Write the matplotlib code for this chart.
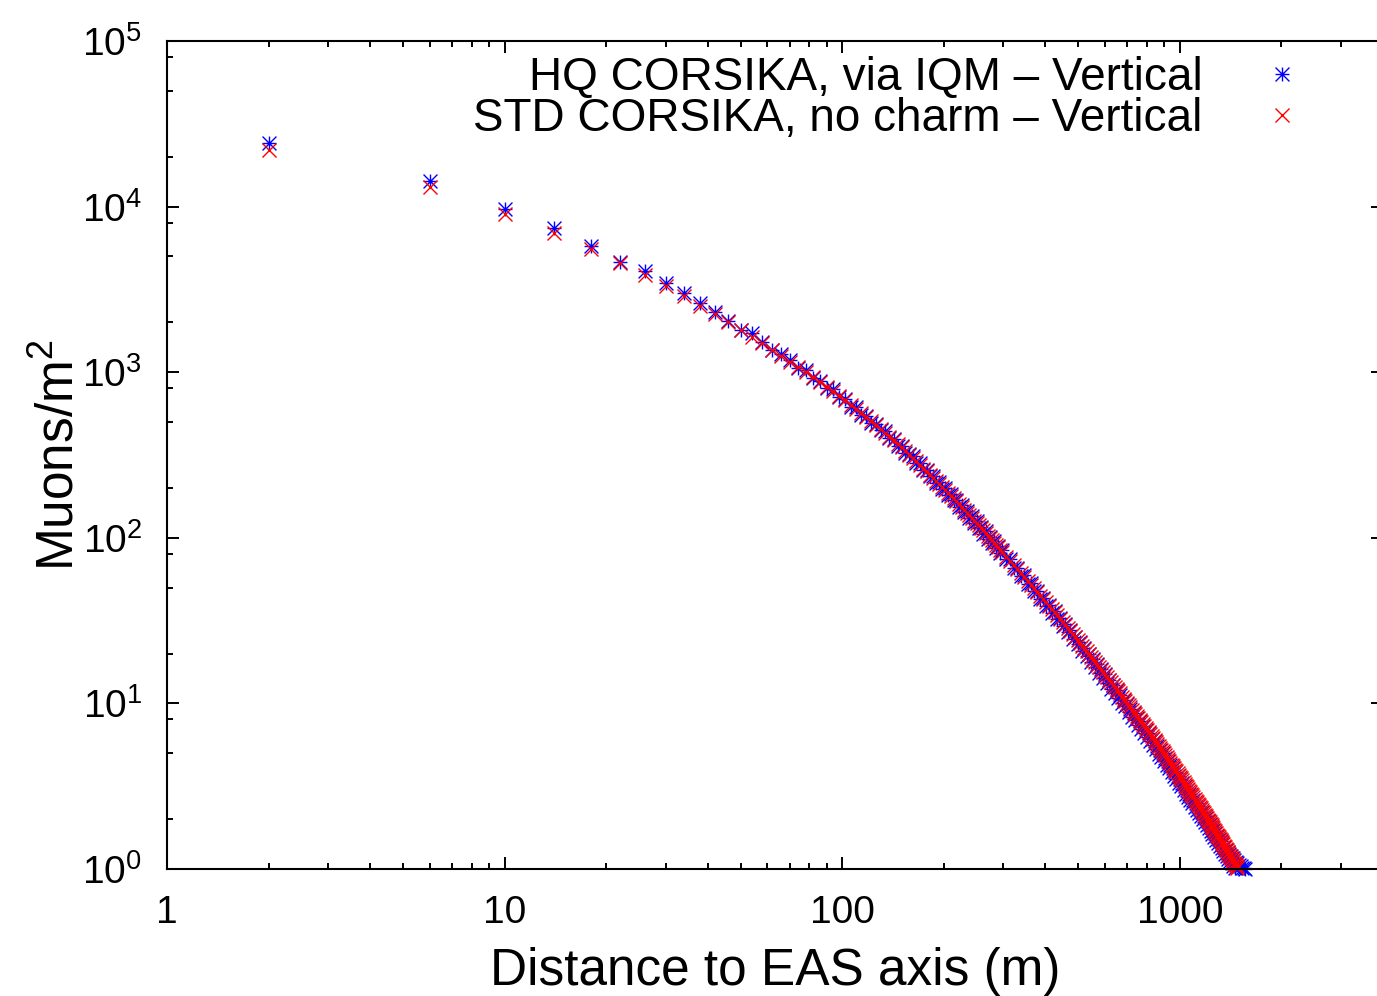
import numpy as np
import matplotlib
matplotlib.use('Agg')
import matplotlib.pyplot as plt
from matplotlib.path import Path
from matplotlib.ticker import FixedLocator, LogLocator, NullFormatter

plt.rcParams['font.family'] = ['Liberation Sans', 'DejaVu Sans']
plt.rcParams['mathtext.fontset'] = 'custom'
plt.rcParams['mathtext.rm'] = 'Liberation Sans'
plt.rcParams['mathtext.it'] = 'Liberation Sans:italic'
plt.rcParams['mathtext.bf'] = 'Liberation Sans:bold'

# bin centres (m): 4 m bins up to 300 m, 8 m bins beyond
distance = np.concatenate([np.arange(2, 300, 4), np.arange(306, 1570, 8)])

# HQ CORSIKA, via IQM - Vertical (muons/m^2)
hq_iqm = np.array([
    24200, 14300, 9680, 7430, 5780, 4630, 4080, 3460, 3000, 2620,
    2310, 2040, 1800, 1730, 1520, 1360, 1290, 1180, 1060, 1030,
    920, 890, 800, 790, 705, 690, 620, 615, 555, 545,
    495, 490, 445, 440, 400, 395, 360, 360, 325, 322,
    310, 283, 282, 255, 258, 236, 237, 214, 216, 198,
    199, 181, 184, 168, 170, 154, 157, 144, 145, 132,
    136, 122, 126, 115, 117, 106, 110, 99, 101, 93,
    95.5, 87, 89.5, 81, 84,
    # 8 m bins from 306 m
    74, 74.5, 65.5, 66, 58.5, 59.5, 52.5, 53, 47.5, 48,
    42.5, 43.5, 38.8, 39.2, 35.0, 36.0, 32.2, 32.8, 29.4, 30.0,
    27.0, 27.6, 24.6, 25.3, 22.8, 23.4, 20.8, 21.6, 19.4, 19.9,
    17.9, 18.5, 16.5, 17.2, 15.3, 16.1, 14.3, 15.0, 13.3, 13.9,
    12.3, 12.9, 11.6, 12.0, 10.8, 11.3, 10.0, 10.5, 9.6, 9.9,
    8.9, 9.3, 8.3, 8.8, 7.9, 8.2, 7.4, 7.8, 7.0, 7.3,
    6.6, 6.9, 6.3, 6.6, 5.9, 6.1, 5.6, 5.9, 5.3, 5.5,
    4.95, 5.25, 4.75, 5.0, 4.5, 4.7, 4.25, 4.5, 4.05, 4.25,
    3.85, 4.05, 3.65, 3.85, 3.5, 3.65, 3.3, 3.5, 3.15, 3.3,
    3.0, 3.15, 2.85, 3.0, 2.72, 2.85, 2.6, 2.75, 2.5, 2.6,
    2.38, 2.5, 2.28, 2.4, 2.18, 2.3, 2.08, 2.2, 2.0, 2.1,
    1.92, 2.02, 1.84, 1.95, 1.76, 1.86, 1.7, 1.79, 1.62, 1.72,
    1.56, 1.65, 1.5, 1.58, 1.44, 1.52, 1.38, 1.47, 1.33, 1.42,
    1.28, 1.36, 1.23, 1.31, 1.19, 1.27, 1.15, 1.23, 1.11, 1.19,
    1.08, 1.16, 1.04, 1.13, 1.01, 1.1, 0.98, 1.08, 0.96, 1.06,
    0.94, 1.04, 0.92, 1.02, 0.9, 1.01, 0.88, 1.0,
])

# STD CORSIKA, no charm - Vertical (muons/m^2)
std_nocharm = np.array([
    22000, 13100, 9060, 6900, 5550, 4580, 3850, 3300, 2870, 2520,
    2240, 2010, 1810, 1640, 1500, 1370, 1260, 1160, 1080, 1000,
    931, 873, 817, 766, 719, 676, 637, 600, 565, 533,
    506, 480, 453, 430, 408, 388, 369, 351, 333, 318,
    302, 289, 276, 262, 252, 241, 230, 221, 211, 203,
    195, 187, 179, 173, 166, 160, 153, 148, 142, 137,
    132, 127, 123, 119, 114, 111, 107, 103, 99.5, 96.6,
    93.5, 90.6, 87.7, 84.9, 82.2,
    # 8 m bins from 306 m
    77.1, 72.8, 68.5, 64.6, 61.2, 58.1, 55.0, 52.1, 49.7, 47.2,
    44.8, 42.9, 40.7, 38.8, 37.1, 35.5, 34.0, 32.4, 31.0, 29.6,
    28.5, 27.2, 26.1, 25.1, 24.1, 23.2, 22.2, 21.4, 20.6, 19.8,
    19.1, 18.4, 17.7, 17.1, 16.5, 16.0, 15.4, 14.9, 14.4, 13.9,
    13.4, 13.0, 12.6, 12.2, 11.8, 11.5, 11.0, 10.7, 10.4, 10.1,
    9.77, 9.46, 9.17, 8.93, 8.67, 8.39, 8.18, 7.93, 7.73, 7.50,
    7.31, 7.08, 6.90, 6.72, 6.50, 6.32, 6.17, 6.00, 5.85, 5.70,
    5.51, 5.37, 5.26, 5.13, 4.99, 4.85, 4.73, 4.60, 4.51, 4.39,
    4.27, 4.16, 4.07, 3.96, 3.88, 3.78, 3.71, 3.61, 3.53, 3.43,
    3.36, 3.27, 3.19, 3.13, 3.06, 2.97, 2.91, 2.85, 2.79, 2.71,
    2.65, 2.59, 2.54, 2.48, 2.43, 2.38, 2.33, 2.28, 2.22, 2.18,
    2.13, 2.08, 2.04, 1.99, 1.95, 1.92, 1.88, 1.84, 1.80, 1.76,
    1.73, 1.69, 1.65, 1.61, 1.59, 1.55, 1.52, 1.50, 1.46, 1.44,
    1.41, 1.37, 1.35, 1.32, 1.30, 1.27, 1.25, 1.22, 1.20, 1.17,
    1.16, 1.13, 1.11, 1.09, 1.07, 1.05, 1.04, 1.01, 0.995, 0.973,
    0.957, 0.935, 0.915, 0.895, 0.875, 0.855, 0.835, 0.82,
])

x_ticks = [1, 10, 100, 1000]
x_labels = ['1', '10', '100', '1000']
y_ticks = [1, 10, 100, 1000, 1e4, 1e5]
y_labels = [r'$10^{0}$', r'$10^{1}$', r'$10^{2}$', r'$10^{3}$', r'$10^{4}$', r'$10^{5}$']

# gnuplot style asterisk: + and x on top of each other
star = Path([(-1, 0), (1, 0), (0, -1), (0, 1), (-1, -1), (1, 1), (-1, 1), (1, -1)],
            [Path.MOVETO, Path.LINETO] * 4)

fig = plt.figure(figsize=(13.77, 9.96), dpi=100)
ax = fig.add_axes([167 / 1377, 127 / 996, 1216 / 1377, 828 / 996])

m = hq_iqm >= 1
ax.plot(distance[m], hq_iqm[m], ls='none', marker=star, ms=10, mew=1.0,
        color='#0000ff', clip_on=False, label='HQ CORSIKA, via IQM \u2013 Vertical')
m = std_nocharm >= 1
ax.plot(distance[m], std_nocharm[m], ls='none', marker='x', ms=10, mew=1.0,
        color='#ff0000', clip_on=False, label='STD CORSIKA, no charm \u2013 Vertical')

ax.set_xscale('log')
ax.set_yscale('log')
ax.set_xlim(1, 4000)
ax.set_ylim(1, 1e5)

ax.xaxis.set_major_locator(FixedLocator(x_ticks))
ax.set_xticklabels(x_labels)
ax.xaxis.set_minor_locator(LogLocator(base=10, subs=np.arange(2, 10), numticks=50))
ax.xaxis.set_minor_formatter(NullFormatter())
ax.yaxis.set_major_locator(FixedLocator(y_ticks))
ax.set_yticklabels(y_labels)
ax.yaxis.set_minor_locator(LogLocator(base=10, subs=[2, 5, 8], numticks=50))
ax.yaxis.set_minor_formatter(NullFormatter())

ax.tick_params(which='both', direction='in', top=True, right=True, width=1.4, colors='black')
ax.tick_params(which='major', length=8.6)
ax.tick_params(which='minor', length=4.3)
ax.tick_params(axis='x', which='major', labelsize=28, pad=19)
ax.tick_params(axis='y', which='major', labelsize=28, pad=18)
for sp in ax.spines.values():
    sp.set_linewidth(1.5)

ax.set_xlabel('Distance to EAS axis (m)', fontsize=37, labelpad=11)
ax.set_ylabel(r'Muons/m$^{2}$', fontsize=37, labelpad=-2)

ax.legend(loc='upper right', bbox_to_anchor=(1305 / 1377, 0.944), bbox_transform=fig.transFigure,
          frameon=False, markerfirst=False, fontsize=33, handlelength=1.0, handletextpad=1.24,
          labelspacing=-0.05, borderpad=0, borderaxespad=0, numpoints=1)

fig.savefig('out.png', dpi=100)
